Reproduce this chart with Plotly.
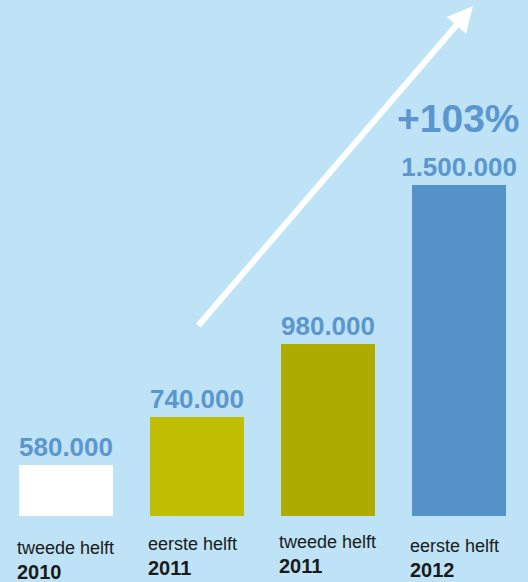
import plotly.graph_objects as go

periods = ["tweede helft", "eerste helft", "tweede helft", "eerste helft"]
years = ["2010", "2011", "2011", "2012"]
values = [580000, 740000, 980000, 1500000]
value_labels = ["580.000", "740.000", "980.000", "1.500.000"]
growth_label = "+103%"
bar_colors = ["#ffffff", "#bfbe00", "#adaa00", "#5592c9"]

BG = "#bee3f6"
LABEL_BLUE = "#5b96cf"
W, H = 528, 582
BOTTOM = 66
x_idx = list(range(len(values)))

fig = go.Figure()
fig.add_trace(go.Bar(
    x=x_idx, y=values, width=0.715,
    marker=dict(color=bar_colors, line=dict(width=0)),
    text=value_labels, textposition="outside", cliponaxis=False,
    constraintext="none",
    textfont=dict(family="Liberation Sans, Arial", size=26, color=LABEL_BLUE),
    texttemplate="<b>%{text}</b>",
    hoverinfo="skip",
))

fig.update_layout(
    width=W, height=H,
    margin=dict(l=0, r=0, t=0, b=BOTTOM),
    paper_bgcolor=BG, plot_bgcolor=BG,
    showlegend=False,
    xaxis=dict(range=[-0.504, 3.527], visible=False, fixedrange=True),
    yaxis=dict(range=[413000, 2110000], visible=False, fixedrange=True),
    bargap=0,
)

# two-line category labels below bars
label_top = [548, 544, 542, 546]
for i, (p, yr) in enumerate(zip(periods, years)):
    fig.add_annotation(
        x=i - 0.39, xref="x", y=0, yref="paper",
        yshift=-(label_top[i] - (H - BOTTOM)),
        text=p, showarrow=False, xanchor="left", yanchor="middle",
        font=dict(family="Liberation Sans, Arial", size=18, color="#1a1a1a"),
    )
    fig.add_annotation(
        x=i - 0.39, xref="x", y=0, yref="paper",
        yshift=-(label_top[i] + 24 - (H - BOTTOM)),
        text="<b>" + yr + "</b>", showarrow=False, xanchor="left", yanchor="middle",
        font=dict(family="Liberation Sans, Arial", size=20, color="#1a1a1a"),
    )

fig.add_annotation(
    x=3, xref="x", y=values[3], yref="y", yshift=67,
    text="<b>" + growth_label + "</b>", showarrow=False,
    xanchor="center", yanchor="middle",
    font=dict(family="Liberation Sans, Arial", size=39, color=LABEL_BLUE),
)

# growth arrow (head at top right, tail near second bar)
fig.add_annotation(
    x=473 / W, y=(H - 6 - BOTTOM) / (H - BOTTOM), xref="paper", yref="paper",
    ax=197 - 473, ay=327 - 6, axref="pixel", ayref="pixel",
    showarrow=True, arrowhead=2, arrowsize=0.85, arrowwidth=6,
    arrowcolor="#ffffff", text="",
)

fig.write_html(
    "out.html",
    config={"displayModeBar": False},
    post_script="document.body.style.margin='0';document.body.style.overflow='hidden';",
)
